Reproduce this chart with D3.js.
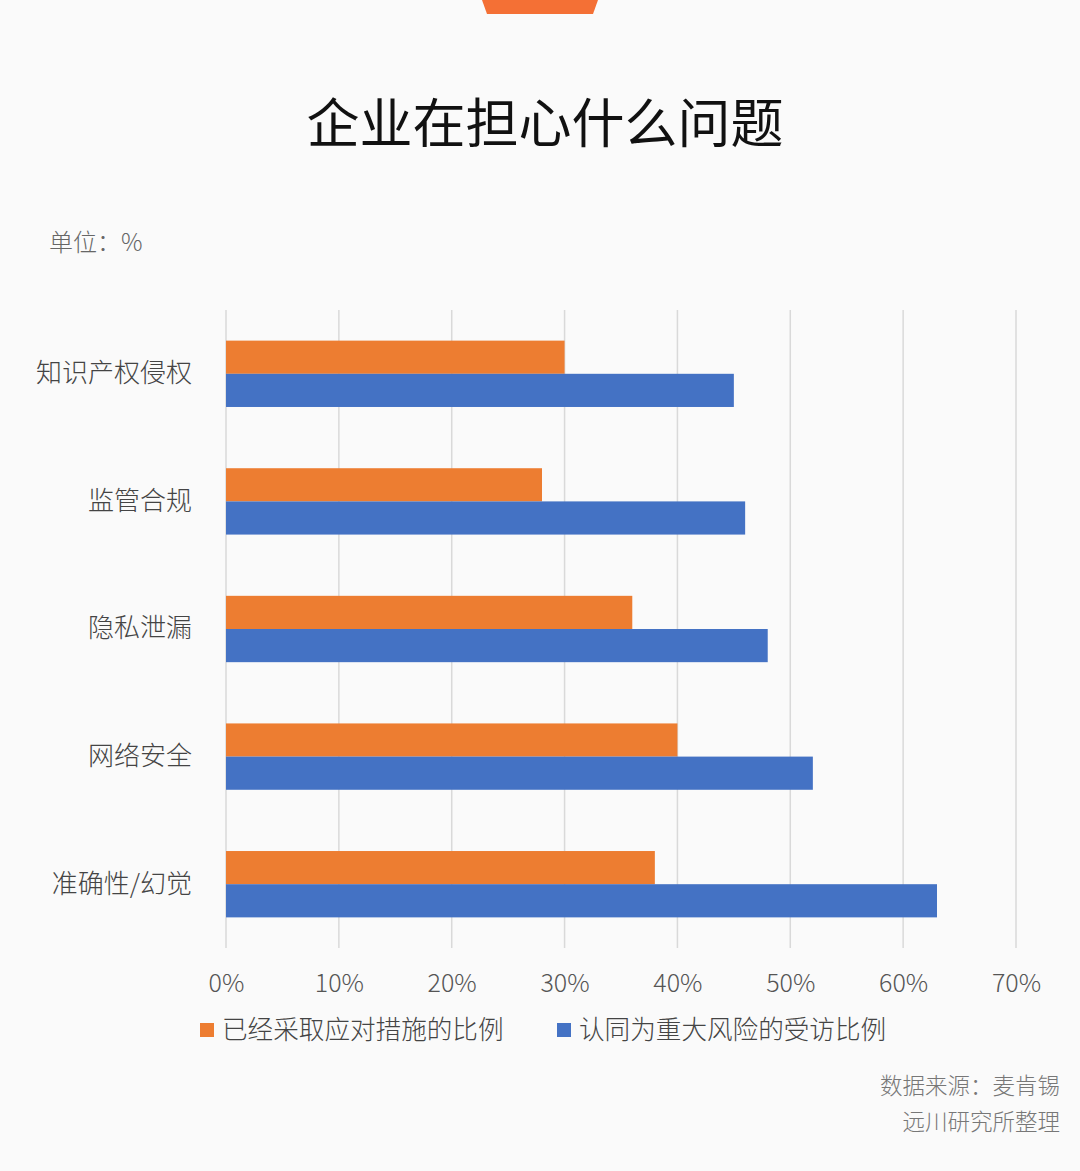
<!DOCTYPE html>
<html>
<head>
<meta charset="utf-8">
<script src="https://cdn.jsdelivr.net/npm/d3@7"></script>
<style>
	html, body { margin: 0; padding: 0; background: #fafafa; }
	svg { display: block; font-family: "Noto Sans CJK SC", "Noto Sans", sans-serif; }
</style>
</head>
<body>
<svg id="chart" width="1080" height="1171"></svg>
<script>
// 数据
var categories = ["知识产权侵权", "监管合规", "隐私泄漏", "网络安全", "准确性/幻觉"];
var seriesNames = ["已经采取应对措施的比例", "认同为重大风险的受访比例"];
var takenMeasures = [30, 28, 36, 40, 38];
var seenAsRisk = [45, 46, 48, 52, 63];
var tickValues = [0, 10, 20, 30, 40, 50, 60, 70];
var colors = ["#ed7d31", "#4472c4"];

var svg = d3.select("#chart");

var margin = {left: 226, right: 64, top: 310, bottom: 223},
	width = 1080 - margin.left - margin.right,
	height = 1171 - margin.top - margin.bottom;

// 顶部装饰
svg.append("path")
	.attr("d", "M482,0 L598,0 L593,14 L487,14 Z")
	.attr("fill", "#f47035");

svg.append("text")
	.attr("x", 545)
	.attr("y", 143)
	.attr("text-anchor", "middle")
	.attr("font-size", 53)
	.attr("font-weight", 400)
	.attr("fill", "#111")
	.text("企业在担心什么问题");

svg.append("text")
	.attr("x", 49)
	.attr("y", 251)
	.attr("font-size", 24)
	.attr("font-weight", 300)
	.attr("fill", "#666")
	.text("单位：%");

var g = svg.append("g")
	.attr("transform", "translate(" + margin.left + "," + margin.top + ")");

var x = d3.scaleLinear().domain([0, 70]).range([0, width]);

var y = d3.scaleBand().domain(categories).range([0, height]).paddingInner(0.48).paddingOuter(0.24);

var y1 = d3.scaleBand().domain([0, 1]).range([0, y.bandwidth()]);

// 网格线
g.selectAll("line.grid")
	.data(tickValues)
	.enter().append("line")
		.attr("class", "grid")
		.attr("x1", function(d) { return x(d); })
		.attr("x2", function(d) { return x(d); })
		.attr("y1", 0)
		.attr("y2", height)
		.attr("stroke", "#d9d9d9")
		.attr("stroke-width", 1.5);

var rows = categories.map(function(c, i) {
	return {cat: c, values: [takenMeasures[i], seenAsRisk[i]]};
});

var groups = g.selectAll("g.row")
	.data(rows)
	.enter().append("g")
		.attr("class", "row")
		.attr("transform", function(d) { return "translate(0," + y(d.cat) + ")"; });

groups.selectAll("rect")
	.data(function(d) { return d.values; })
	.enter().append("rect")
		.attr("x", 0)
		.attr("y", function(d, i) { return y1(i); })
		.attr("width", function(d) { return x(d); })
		.attr("height", y1.bandwidth())
		.attr("fill", function(d, i) { return colors[i]; });

// 分类标签
var yAxis = g.append("g")
	.call(d3.axisLeft(y).tickSize(0).tickPadding(34));
yAxis.select(".domain").remove();
yAxis.selectAll("text")
	.attr("font-family", "Noto Sans CJK SC")
	.attr("font-size", 26)
	.attr("font-weight", 300)
	.attr("fill", "#444")
	.attr("dy", "0.32em");

// 横轴刻度
var xAxis = g.append("g")
	.attr("transform", "translate(0," + height + ")")
	.call(d3.axisBottom(x).tickValues(tickValues).tickSize(0).tickPadding(26)
		.tickFormat(function(d) { return d + "%"; }));
xAxis.select(".domain").remove();
xAxis.selectAll("text")
	.attr("font-family", "Noto Sans CJK SC")
	.attr("font-size", 25)
	.attr("font-weight", 300)
	.attr("fill", "#555");

// 图例
var legendX = [200, 557];
var legend = svg.selectAll("g.legend")
	.data(seriesNames)
	.enter().append("g")
		.attr("class", "legend")
		.attr("transform", function(d, i) { return "translate(" + legendX[i] + ",1023)"; });

legend.append("rect")
	.attr("width", 14)
	.attr("height", 14)
	.attr("fill", function(d, i) { return colors[i]; });

legend.append("text")
	.attr("x", 22)
	.attr("y", 16)
	.attr("font-size", 25.6)
	.attr("font-weight", 300)
	.attr("fill", "#444")
	.text(function(d) { return d; });

// 来源
svg.selectAll("text.source")
	.data(["数据来源：麦肯锡", "远川研究所整理"])
	.enter().append("text")
		.attr("class", "source")
		.attr("x", 1060)
		.attr("y", function(d, i) { return 1094 + i * 36; })
		.attr("text-anchor", "end")
		.attr("font-size", 22.5)
		.attr("font-weight", 300)
		.attr("fill", "#777")
		.text(function(d) { return d; });
</script>
</body>
</html>
